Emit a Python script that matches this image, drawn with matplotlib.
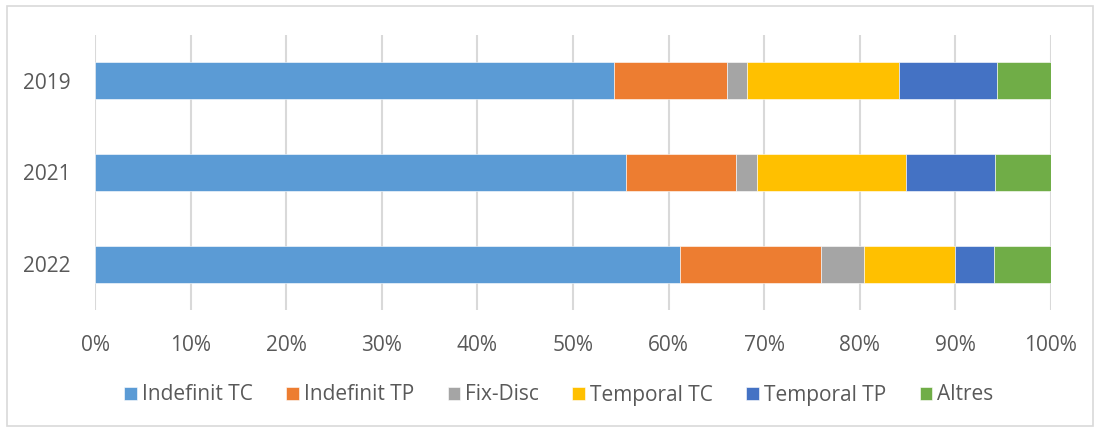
import numpy as np
import matplotlib.pyplot as plt
from matplotlib.patches import Rectangle
from matplotlib.ticker import PercentFormatter

years = ['2022', '2021', '2019']
series = ['Indefinit TC', 'Indefinit TP', 'Fix-Disc', 'Temporal TC', 'Temporal TP', 'Altres']
indefinit_tc = [61.2, 55.5, 54.3]
indefinit_tp = [14.7, 11.6, 11.8]
fix_disc = [4.5, 2.1, 2.1]
temporal_tc = [9.6, 15.6, 15.9]
temporal_tp = [4.0, 9.3, 10.2]
altres = [6.0, 5.9, 5.7]
colors = ['#5B9BD5', '#ED7D31', '#A5A5A5', '#FFC000', '#4472C4', '#70AD47']

values = [indefinit_tc, indefinit_tp, fix_disc, temporal_tc, temporal_tp, altres]
data = np.array(values)
data = data / data.sum(axis=0) * 100  # 100% stacked

plt.rcParams['font.family'] = ['Open Sans', 'DejaVu Sans']

fig = plt.figure(figsize=(11, 4.32), dpi=100)
ax = fig.add_axes([95 / 1100, 1 - 310 / 432, (1051 - 95) / 1100, 275 / 432])

fig.patches.append(Rectangle((7 / 1100, 6 / 432), 1086 / 1100, 420 / 432,
                             transform=fig.transFigure, fill=False,
                             edgecolor='#D9D9D9', linewidth=1.2))

y = np.arange(len(years))
left = np.zeros(len(years))
for name, row, c in zip(series, data, colors):
    ax.barh(y, row, left=left, height=0.4, color=c, label=name,
            edgecolor='white', linewidth=0.4)
    left += row

ax.set_xlim(0, 100)
ax.set_ylim(-0.5, 2.5)
ax.set_xticks(np.arange(0, 101, 10))
ax.xaxis.set_major_formatter(PercentFormatter(decimals=0))
ax.set_yticks(y)
ax.set_yticklabels(years)
ax.grid(axis='x', color='#D9D9D9', linewidth=1.5)
ax.set_axisbelow(True)
for s in ax.spines.values():
    s.set_visible(False)
ax.tick_params(length=0, labelsize=15, colors='#595959')
ax.tick_params(axis='x', pad=18)
ax.tick_params(axis='y', pad=17.5)

leg = fig.legend(loc='center', bbox_to_anchor=(0.5 + 9 / 1100, 1 - 395 / 432), ncol=6,
                 frameon=False, fontsize=15, handlelength=0.6, handleheight=0.6,
                 handletextpad=0.25, columnspacing=1.6)
for t in leg.get_texts():
    t.set_color('#595959')

fig.savefig('out.png', dpi=100)
